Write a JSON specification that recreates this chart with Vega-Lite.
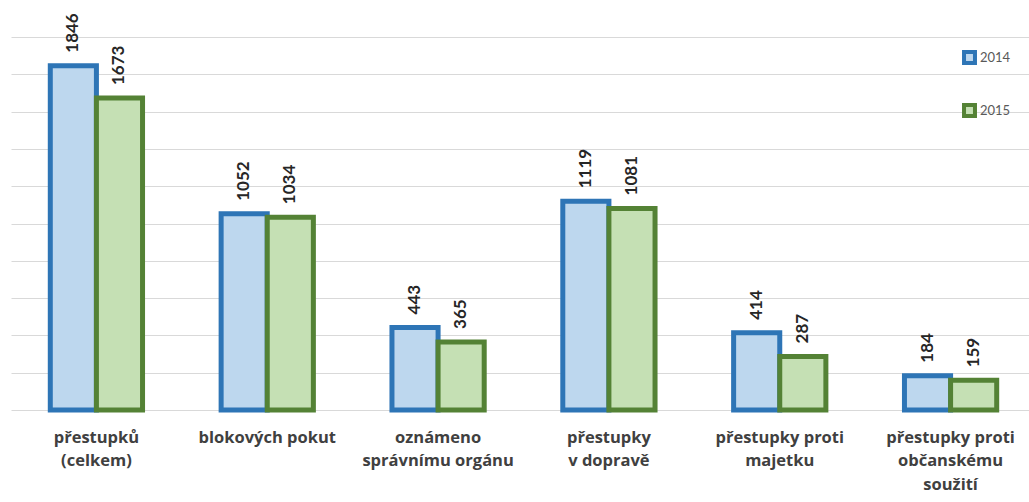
{
  "$schema": "https://vega.github.io/schema/vega-lite/v6.json",
  "width": 1025,
  "height": 373,
  "autosize": {"type": "none"},
  "padding": {"left": 11, "top": 37, "right": 0, "bottom": 92},
  "background": "white",
  "config": {"view": {"stroke": null}, "font": "Lato"},
  "data": {
    "values": [
      {"cat": "přestupků\n(celkem)", "year": "2014", "value": 1846},
      {"cat": "přestupků\n(celkem)", "year": "2015", "value": 1673},
      {"cat": "blokových pokut", "year": "2014", "value": 1052},
      {"cat": "blokových pokut", "year": "2015", "value": 1034},
      {"cat": "oznámeno\nsprávnímu orgánu", "year": "2014", "value": 443},
      {"cat": "oznámeno\nsprávnímu orgánu", "year": "2015", "value": 365},
      {"cat": "přestupky\nv dopravě", "year": "2014", "value": 1119},
      {"cat": "přestupky\nv dopravě", "year": "2015", "value": 1081},
      {"cat": "přestupky proti\nmajetku", "year": "2014", "value": 414},
      {"cat": "přestupky proti\nmajetku", "year": "2015", "value": 287},
      {"cat": "přestupky proti\nobčanskému\nsoužití", "year": "2014", "value": 184},
      {"cat": "přestupky proti\nobčanskému\nsoužití", "year": "2015", "value": 159}
    ]
  },
  "encoding": {
    "x": {
      "field": "cat", "type": "nominal", "sort": null,
      "scale": {"paddingInner": 0.46, "paddingOuter": 0.23},
      "axis": {
        "title": null, "labelAngle": 0, "domain": false, "ticks": false,
        "labelExpr": "split(datum.label, '\\n')",
        "labelFontSize": 16.5, "labelFontWeight": "bold", "labelColor": "#404040",
        "labelPadding": 19, "labelLineHeight": 23.5, "labelFont": "Open Sans",
        "labelLimit": 200
      }
    },
    "xOffset": {"field": "year", "type": "nominal", "scale": {"paddingInner": 0}},
    "y": {
      "field": "value", "type": "quantitative",
      "scale": {"domain": [0, 2000], "nice": false},
      "axis": {
        "title": null, "labels": false, "ticks": false, "domain": false,
        "values": [0, 200, 400, 600, 800, 1000, 1200, 1400, 1600, 1800, 2000],
        "gridColor": "#D9D9D9", "gridWidth": 1.2
      }
    }
  },
  "layer": [
    {
      "mark": {"type": "bar", "strokeWidth": 5, "strokeJoin": "miter"},
      "encoding": {
        "fill": {
          "field": "year", "type": "nominal",
          "scale": {"domain": ["2014", "2015"], "range": ["#BDD7EE", "#C5E0B4"]},
          "legend": {
            "title": null, "orient": "none", "legendX": 951, "legendY": 13,
            "padding": 0, "symbolType": "square", "symbolSize": 120,
            "symbolStrokeWidth": 4, "rowPadding": 26, "labelFontSize": 13,
            "labelColor": "#595959", "labelOffset": 3, "labelFont": "Lato"
          }
        },
        "stroke": {
          "field": "year", "type": "nominal",
          "scale": {"domain": ["2014", "2015"], "range": ["#2E75B6", "#548235"]},
          "legend": {
            "title": null, "orient": "none", "legendX": 951, "legendY": 13,
            "padding": 0, "symbolType": "square", "symbolSize": 120,
            "symbolStrokeWidth": 4, "rowPadding": 26, "labelFontSize": 13,
            "labelColor": "#595959", "labelOffset": 3, "labelFont": "Lato"
          }
        }
      }
    },
    {
      "mark": {
        "type": "text", "angle": 270, "align": "left", "baseline": "middle",
        "dx": 13, "fontSize": 17, "fontWeight": "bold", "color": "#262626",
        "font": "Lato"
      },
      "encoding": {"text": {"field": "value", "type": "quantitative"}}
    }
  ]
}
